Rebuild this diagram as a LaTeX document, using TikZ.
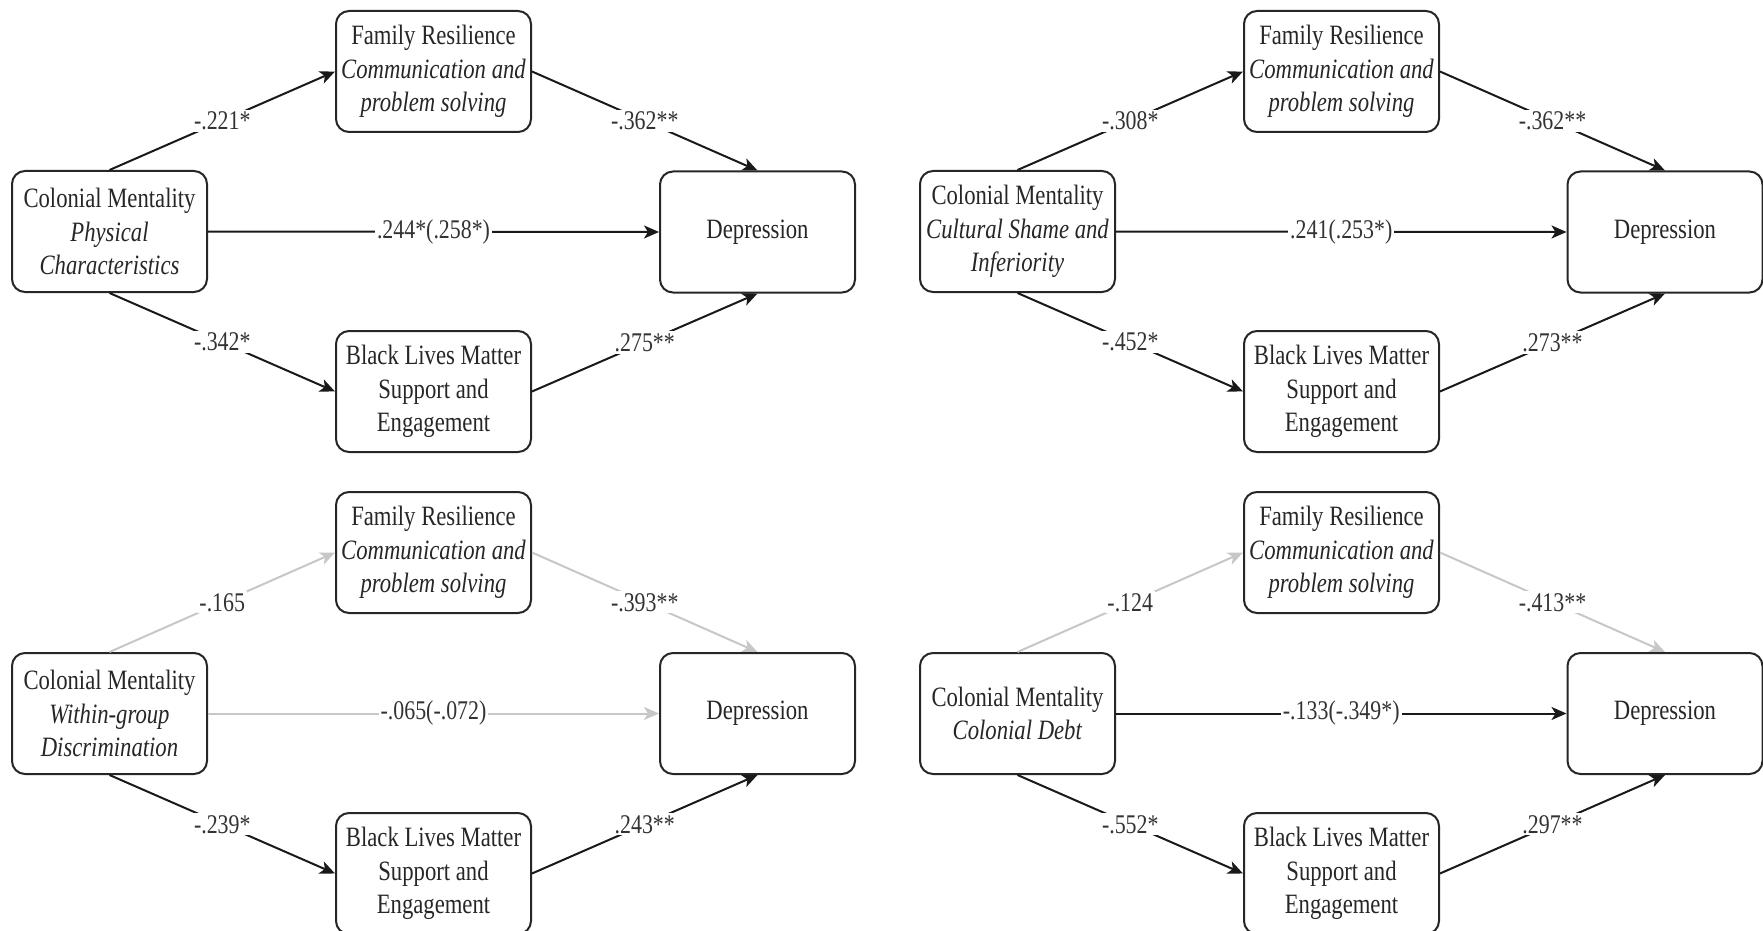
\documentclass[tikz,border=0pt]{standalone}
\usepackage{fontspec}
\setmainfont{Liberation Serif}[FakeStretch=0.81]
\usetikzlibrary{arrows.meta}
\begin{document}
\begin{tikzpicture}[x=0.5pt,y=-0.5pt,
  box/.style={draw=black!85, line width=1pt, rounded corners=6.5pt,
    minimum width=97.5pt, minimum height=60.5pt, align=center, inner sep=0pt,
    font=\fontsize{14}{16.75}\selectfont, text=black!85},
  arr/.style={draw=black!90, line width=1pt, -{Stealth[length=7.5pt,width=6.5pt,inset=2pt]}},
  faint/.style={draw=black!22},
  lab/.style={fill=white, inner sep=1pt, font=\fontsize{13.5}{15}\selectfont, text=black!80}]
\useasboundingbox (0,0) rectangle (1763,931);

% ---------- panel 1 ----------
\node[box] (cm1)  at (109.5,231.5) {Colonial Mentality\\\textit{Physical}\\\textit{Characteristics}};
\node[box] (fr1)  at (433.5,71.5) {Family Resilience\\\textit{Communication and}\\\textit{problem solving}};
\node[box] (dep1) at (757.5,232) {Depression};
\node[box] (blm1) at (433.5,391.5) {Black Lives Matter\\Support and\\Engagement};
\draw[arr] (cm1.north) -- node[lab]{-.221*} (fr1.west);
\draw[arr] (fr1.east) -- node[lab]{-.362**} (dep1.north);
\draw[arr] (cm1.east) -- node[lab]{.244*(.258*)} (dep1.west);
\draw[arr] (cm1.south) -- node[lab]{-.342*} (blm1.west);
\draw[arr] (blm1.east) -- node[lab]{.275**} (dep1.south);

% ---------- panel 2 ----------
\node[box] (cm2)  at (1017.5,231.5) {Colonial Mentality\\\textit{Cultural Shame and}\\\textit{Inferiority}};
\node[box] (fr2)  at (1341.5,71.5) {Family Resilience\\\textit{Communication and}\\\textit{problem solving}};
\node[box] (dep2) at (1665,232) {Depression};
\node[box] (blm2) at (1341.5,391.5) {Black Lives Matter\\Support and\\Engagement};
\draw[arr] (cm2.north) -- node[lab]{-.308*} (fr2.west);
\draw[arr] (fr2.east) -- node[lab]{-.362**} (dep2.north);
\draw[arr] (cm2.east) -- node[lab]{.241(.253*)} (dep2.west);
\draw[arr] (cm2.south) -- node[lab]{-.452*} (blm2.west);
\draw[arr] (blm2.east) -- node[lab]{.273**} (dep2.south);

% ---------- panel 3 ----------
\node[box] (cm3)  at (109.5,713.5) {Colonial Mentality\\\textit{Within-group}\\\textit{Discrimination}};
\node[box] (fr3)  at (433.5,552.5) {Family Resilience\\\textit{Communication and}\\\textit{problem solving}};
\node[box] (dep3) at (757.5,713.5) {Depression};
\node[box] (blm3) at (433.5,873.5) {Black Lives Matter\\Support and\\Engagement};
\draw[arr,faint] (cm3.north) -- node[lab]{-.165} (fr3.west);
\draw[arr,faint] (fr3.east) -- node[lab]{-.393**} (dep3.north);
\draw[arr,faint] (cm3.east) -- node[lab]{-.065(-.072)} (dep3.west);
\draw[arr] (cm3.south) -- node[lab]{-.239*} (blm3.west);
\draw[arr] (blm3.east) -- node[lab]{.243**} (dep3.south);

% ---------- panel 4 ----------
\node[box] (cm4)  at (1017.5,713.5) {Colonial Mentality\\\textit{Colonial Debt}};
\node[box] (fr4)  at (1341.5,552.5) {Family Resilience\\\textit{Communication and}\\\textit{problem solving}};
\node[box] (dep4) at (1665,713.5) {Depression};
\node[box] (blm4) at (1341.5,873.5) {Black Lives Matter\\Support and\\Engagement};
\draw[arr,faint] (cm4.north) -- node[lab]{-.124} (fr4.west);
\draw[arr,faint] (fr4.east) -- node[lab]{-.413**} (dep4.north);
\draw[arr] (cm4.east) -- node[lab]{-.133(-.349*)} (dep4.west);
\draw[arr] (cm4.south) -- node[lab]{-.552*} (blm4.west);
\draw[arr] (blm4.east) -- node[lab]{.297**} (dep4.south);
\end{tikzpicture}
\end{document}
